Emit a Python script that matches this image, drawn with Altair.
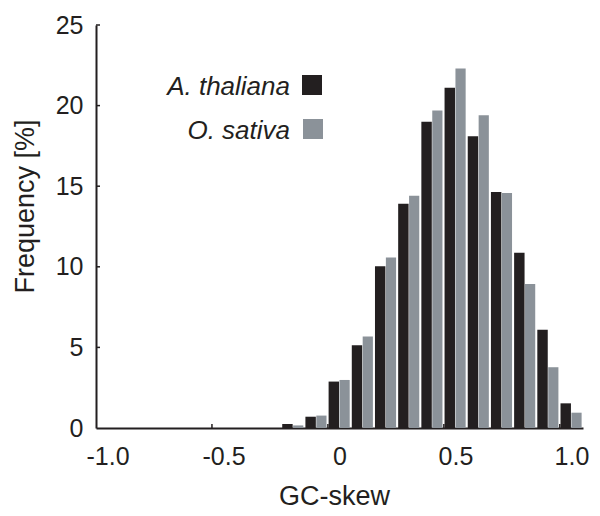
import altair as alt
import pandas as pd

# ---- data ----
bins = [-0.2, -0.1, 0.0, 0.1, 0.2, 0.3, 0.4, 0.5, 0.6, 0.7, 0.8, 0.9, 1.0]
thaliana = [0.25, 0.70, 2.88, 5.13, 10.04, 13.91, 19.0, 21.1, 18.1, 14.64, 10.87, 6.09, 1.53]
sativa = [0.16, 0.77, 2.98, 5.67, 10.58, 14.41, 19.7, 22.3, 19.4, 14.58, 8.94, 3.77, 0.95]
series = ["A. thaliana", "O. sativa"]
colors = ["#231f20", "#8b9299"]
x_labels = [-1.0, -0.5, 0.0, 0.5, 1.0]
x_tick_marks = [-0.55, -0.05, 0.45, 0.95]   # category boundaries (Excel style)
y_ticks = [0, 5, 10, 15, 20, 25]

INK = "#231f20"
FONT = "Liberation Sans"
W, H = 487, 403

rows = []
for b, v1, v2 in zip(bins, thaliana, sativa):
    rows.append(dict(series=series[0], lo=b - 0.047, hi=b - 0.002, base=0.0, freq=v1))
    rows.append(dict(series=series[1], lo=b, hi=b + 0.044, base=0.0, freq=v2))
df = pd.DataFrame(rows)

xscale = alt.Scale(domain=[-1.05, 1.05], nice=False, zero=False)
yscale = alt.Scale(domain=[0, 25], nice=False)

xaxis = alt.Axis(
    values=x_labels, title="GC-skew", ticks=False, grid=False,
    labelExpr="datum.value == 0 ? '0' : (datum.value < 0 ? '-' + format(-datum.value, '.1f') : format(datum.value, '.1f'))",
    labelPadding=16, labelFontSize=25, titleFontSize=27, titlePadding=14, titleX=238,
    labelFont=FONT, titleFont=FONT, labelColor=INK, titleColor=INK,
    titleFontWeight="normal", domainColor=INK, domainWidth=2, labelOverlap=False)
yaxis = alt.Axis(
    values=y_ticks, title="Frequency [%]", ticks=False, grid=False,
    labelPadding=13, labelFontSize=25, titleFontSize=27, titlePadding=16, titleY=181,
    labelFont=FONT, titleFont=FONT, labelColor=INK, titleColor=INK,
    titleFontWeight="normal", domainColor=INK, domainWidth=2)

bars = alt.Chart(df).mark_rect().encode(
    x=alt.X("lo:Q", scale=xscale, axis=xaxis),
    x2="hi:Q",
    y=alt.Y("freq:Q", scale=yscale, axis=yaxis),
    y2="base:Q",
    color=alt.Color("series:N", scale=alt.Scale(domain=series, range=colors), legend=None),
)

xticks = alt.Chart(pd.DataFrame({"t": x_tick_marks})).mark_rule(color=INK, strokeWidth=1.5).encode(
    x=alt.X("t:Q", scale=xscale, axis=xaxis),
    y=alt.value(H),
    y2=alt.value(H - 4),
)

yticks = alt.Chart(pd.DataFrame({"t": y_ticks[1:]})).mark_rule(color=INK, strokeWidth=1.5).encode(
    y=alt.Y("t:Q", scale=yscale, axis=yaxis),
    x=alt.value(0),
    x2=alt.value(4),
)

legend_layers = []
for i, name in enumerate(series):
    ld = pd.DataFrame({"label": [name]})
    legend_layers.append(
        alt.Chart(ld).mark_text(align="right", baseline="alphabetic", fontSize=26,
                                fontStyle="italic", font=FONT, color=INK).encode(
            text="label:N", x=alt.value(194), y=alt.value(70 + 44 * i))
    )
    legend_layers.append(
        alt.Chart(ld).mark_square(size=400, color=colors[i], opacity=1).encode(
            x=alt.value(216 + i), y=alt.value(60 + 44 * i))
    )

chart = alt.layer(bars, xticks, yticks, *legend_layers).properties(
    width=W, height=H,
    autosize=alt.AutoSizeParams(type="none"),
    padding={"left": 88, "top": 17, "right": 8, "bottom": 85},
).configure_view(stroke=None)

chart.save("out.html", embed_options={"renderer": "svg", "actions": False})
